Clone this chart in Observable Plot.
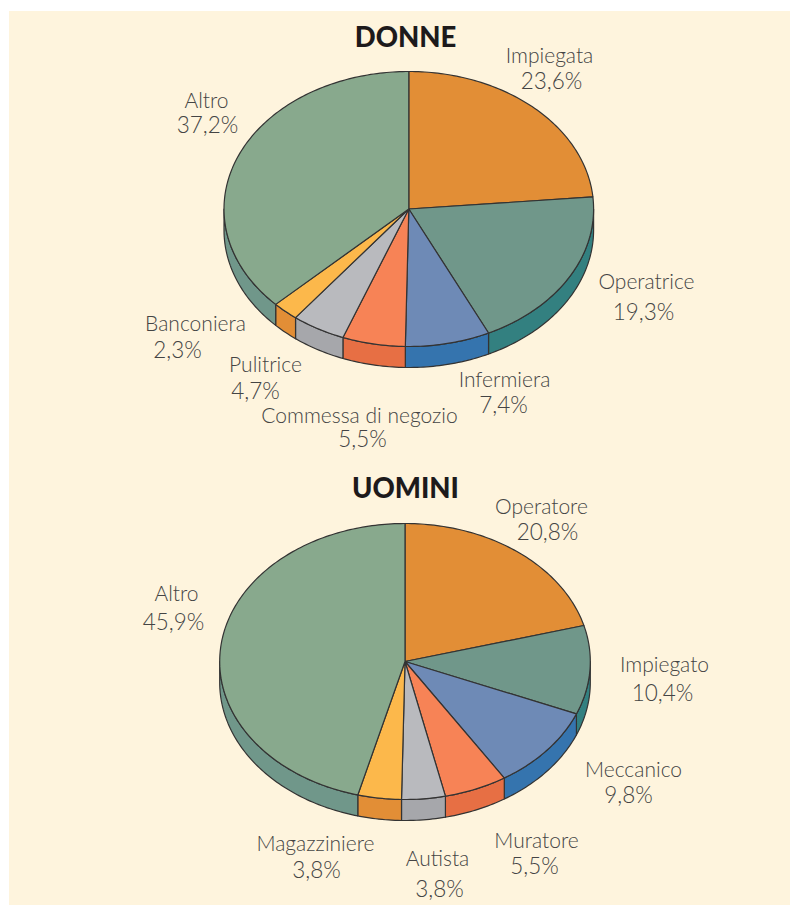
<!DOCTYPE html>
<html>
<head>
<meta charset="utf-8">
<script src="https://cdn.jsdelivr.net/npm/d3@7"></script>
<script src="https://cdn.jsdelivr.net/npm/@observablehq/plot@0.6"></script>
<style>html,body{margin:0;padding:0;background:#fff}svg{display:block}</style>
</head>
<body>
<div id="chart"></div>
<script>
// Data
const donneCategories = ["Impiegata","Operatrice","Infermiera","Commessa di negozio","Pulitrice","Banconiera","Altro"];
const donneValues = [23.6,19.3,7.4,5.5,4.7,2.3,37.2];
const uominiCategories = ["Operatore","Impiegato","Meccanico","Muratore","Autista","Magazziniere","Altro"];
const uominiValues = [20.8,10.4,9.8,5.5,3.8,3.8,45.9];

// Styles (top face / side wall)
const donneTop  = ["#E28E36","#70978A","#6E8AB6","#F78356","#B9BABE","#FCB84B","#88A98D"];
const donneSide = ["#E28E36","#338080","#3574AE","#E76F44","#A6A7AB","#E28E36","#70978A"];
const uominiTop  = ["#E28E36","#70978A","#6E8AB6","#F78356","#B9BABE","#FCB84B","#88A98D"];
const uominiSide = ["#E28E36","#338080","#3574AE","#E76F44","#A6A7AB","#E28E36","#70978A"];

// Layout
const donneGeom  = {cx:408.3, cy:208.5, rx:184.8, ry:137.5, depth:21};
const uominiGeom = {cx:404.5, cy:661,   rx:185.3, ry:138, depth:21};
const donneNamePos  = [[549,56],[646,282],[504,380],[359,416],[265,365],[195,324],[206,101]];
const donnePctPos   = [[551,81],[643,312],[503,405],[362,439],[255,391],[177,350],[207,125]];
const uominiNamePos = [[541,507],[664,665],[633,770],[536,841],[437,859],[315,844],[176,594]];
const uominiPctPos  = [[547,532],[662,693],[628,795],[534,866],[439,889],[316,870],[173,622]];

const pt = (g, deg, dz = 0) => {
  const a = deg * Math.PI / 180;
  return {x: g.cx + g.rx * Math.sin(a), y: g.cy - g.ry * Math.cos(a) + dz};
};
function arcDegs(a, b) {
  const out = [];
  for (let d = a; d < b; d += 1) out.push(d);
  out.push(b);
  return out;
}
function build(id, values, topColors, sideColors, g) {
  const total = d3.sum(values);
  const tops = [], sides = [];
  let cum = 0;
  values.forEach((v, i) => {
    const a0 = cum / total * 360, a1 = (cum + v) / total * 360;
    cum += v;
    const key = id + i;
    const c = {x: g.cx, y: g.cy};
    [c, ...arcDegs(a0, a1).map(d => pt(g, d)), c].forEach(p =>
      tops.push({key, x: p.x, y: p.y, fill: topColors[i]}));
    const s0 = Math.max(a0, 90), s1 = Math.min(a1, 270);
    if (s1 > s0) {
      const degs = arcDegs(s0, s1);
      const front = degs.map(d => pt(g, d));
      const back = degs.slice().reverse().map(d => pt(g, d, g.depth));
      [...front, ...back, front[0]].forEach(p =>
        sides.push({key, x: p.x, y: p.y, fill: sideColors[i]}));
    }
  });
  return {tops, sides};
}
function labels(cats, vals, namePos, pctPos) {
  return {
    names: cats.map((t, i) => ({t, x: namePos[i][0], y: namePos[i][1]})),
    pcts: vals.map((v, i) => ({t: v.toFixed(1).replace(".", ",") + "%", x: pctPos[i][0], y: pctPos[i][1]}))
  };
}

const dP = build("d", donneValues, donneTop, donneSide, donneGeom);
const uP = build("u", uominiValues, uominiTop, uominiSide, uominiGeom);
const dL = labels(donneCategories, donneValues, donneNamePos, donnePctPos);
const uL = labels(uominiCategories, uominiValues, uominiNamePos, uominiPctPos);
const titles = [{t:"DONNE", x:405, y:38}, {t:"UOMINI", x:405, y:489}];

const wedgeOpts = {x:"x", y:"y", z:"key", fill:"fill", stroke:"#333", strokeWidth:1.2, strokeLinejoin:"round"};
const labelOpts = {x:"x", y:"y", text:"t", fontWeight:300, fill:"#444", fontFamily:"Lato", textAnchor:"middle", lineAnchor:"middle"};

const plot = Plot.plot({
  width:790, height:905, margin:0,
  x:{domain:[0,790], range:[0,790], axis:null},
  y:{domain:[0,905], range:[0,905], axis:null},
  color:{type:"identity"},
  style:{background:"transparent"},
  marks:[
    Plot.rect([{x1:9,x2:790,y1:11,y2:905}], {x1:"x1",x2:"x2",y1:"y1",y2:"y2",fill:"#FEF4DD"}),
    Plot.line(dP.sides, wedgeOpts),
    Plot.line(dP.tops, wedgeOpts),
    Plot.line(uP.sides, wedgeOpts),
    Plot.line(uP.tops, wedgeOpts),
    Plot.text([...dL.names, ...uL.names], {...labelOpts, fontSize:21}),
    Plot.text([...dL.pcts, ...uL.pcts], {...labelOpts, fontSize:22.5}),
    Plot.text(titles, {x:"x", y:"y", text:"t", fontSize:27.5, fontWeight:900, fill:"#1d1a1b", fontFamily:"Lato", textAnchor:"middle", lineAnchor:"middle"})
  ]
});
document.getElementById("chart").append(plot);
</script>
</body>
</html>
